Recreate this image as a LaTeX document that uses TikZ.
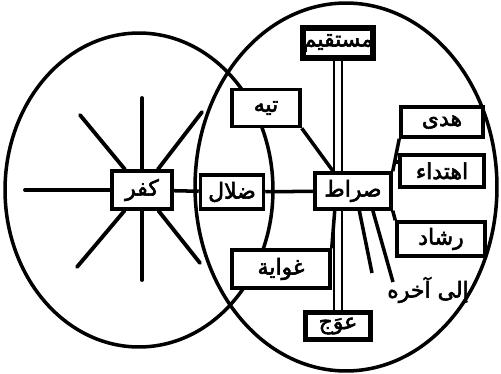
\documentclass[tikz,border=0pt]{standalone}
\usepackage{fontspec}
\newfontfamily\arabicfont[Script=Arabic,FakeBold=2.5]{DejaVu Sans}
\TeXXeTstate=1
\usetikzlibrary{calc,backgrounds}
\tikzset{
  word/.style={rectangle, draw, line width=2pt, fill=white, inner sep=0pt, align=center, font=\arabicfont\fontsize{12.5}{14}\selectfont},
  heavyword/.style={word, line width=3.4pt},
  label/.style={font=\arabicfont\fontsize{12.5}{14}\selectfont},
  link/.style={line width=2pt},
  ray/.style={line width=2.2pt, line cap=round},
  field/.style={line width=2pt}
}

\begin{document}
\begin{tikzpicture}[x=0.02cm, y=-0.02cm]
  \useasboundingbox (0,0) rectangle (501,373);

  % words
  \node[word, minimum width=1.2cm, minimum height=0.76cm] (kufr) at (142,190) {\beginR كفر\endR};
  \node[word, minimum width=1.26cm, minimum height=0.68cm] (dalal) at (232,192) {\beginR ضلال\endR};
  \node[word, minimum width=1.36cm, minimum height=0.74cm] (tih) at (266,108) {\beginR تيه\endR};
  \node[word, minimum width=1.96cm, minimum height=0.76cm] (ghawaya) at (281,269) {\beginR غواية\endR};
  \node[word, minimum width=1.52cm, minimum height=0.72cm] (sirat) at (353,191) {\beginR صراط\endR};
  \node[heavyword, minimum width=1.36cm, minimum height=0.6cm] (mustaqim) at (338,43) {\beginR مستقيم\endR};
  \node[heavyword, minimum width=1.3cm, minimum height=0.54cm] (awaj) at (338,326) {\beginR عوَج\endR};
  \node[word, minimum width=1.64cm, minimum height=0.6cm] (huda) at (442,122) {\beginR هدى\endR};
  \node[word, line width=2.6pt, minimum width=1.68cm, minimum height=0.64cm] (ihtida) at (442,171) {\beginR اهتداء\endR};
  \node[word, minimum width=1.76cm, minimum height=0.68cm] (rashad) at (441,239) {\beginR رشاد\endR};
  \node[label] (akhir) at (428,290) {\beginR إلى آخره\endR};

  % the two fields and the straight path
  \begin{pgfonlayer}{background}
    \draw[field] (139,190) ellipse [x radius=2.68cm, y radius=3.14cm];
    \draw[field] (346,187) ellipse [x radius=3.02cm, y radius=3.68cm];
    \draw[link, line width=1.5pt] ($(mustaqim.south)+(-4,0)$) -- ($(awaj.north)+(-4,0)$);
    \draw[link, line width=1.5pt] ($(mustaqim.south)+(4,0)$) -- ($(awaj.north)+(4,0)$);
  \end{pgfonlayer}

  % rays round kufr
  \coordinate (r1) at (25,190);
  \coordinate (r2) at (80,115);
  \coordinate (r3) at (142,98);
  \coordinate (r4) at (202,112);
  \coordinate (r5) at (200,263);
  \coordinate (r6) at (142,280);
  \coordinate (r7) at (77,267);
  \foreach \r in {r1,r2,r3,r4,r5,r6,r7}
    \draw[ray] (kufr) -- (\r);

  \draw[link] (kufr) -- (dalal);
  \draw[link] (dalal) -- (sirat);
  \draw[link] (tih.south east) -- ($(sirat.north west)!0.25!(sirat.north east)$);
  \draw[link] ($(sirat.south west)!0.27!(sirat.south east)$) -- (ghawaya.north east);

  % right branches
  \draw[link] (sirat.north east) -- (huda.south west);
  \coordinate (stub) at ($(sirat.north east)!0.28!(huda.south west)$);
  \draw[link] (stub) -- (stub -| ihtida.west);
  \draw[link] (sirat.south east) -- (rashad.north west);
  \coordinate (f1) at (372,273);
  \coordinate (f2) at (393,282);
  \draw[link] ($(sirat.south west)!0.58!(sirat.south east)$) -- (f1);
  \draw[link] ($(sirat.south west)!0.75!(sirat.south east)$) -- (f2);
\end{tikzpicture}
\end{document}
